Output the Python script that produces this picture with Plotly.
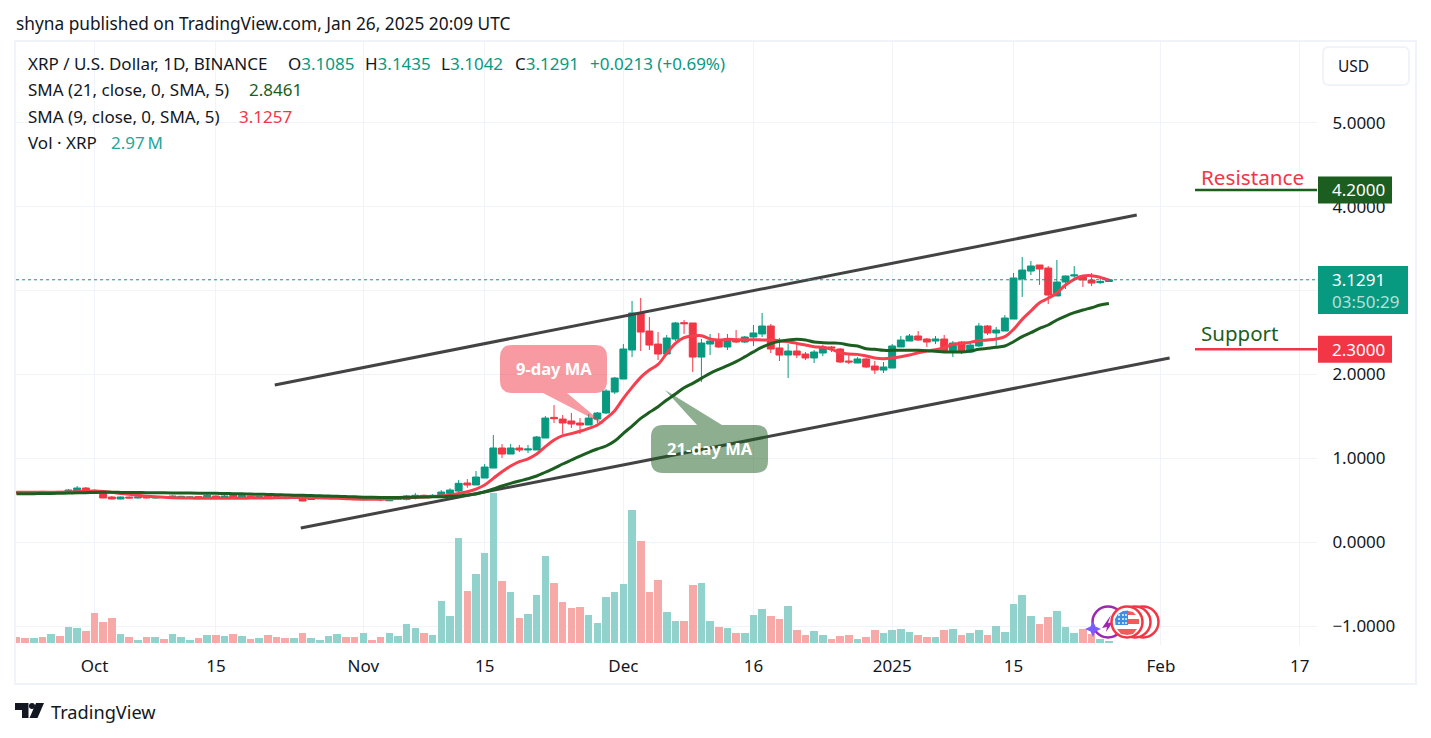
import pandas as pd
import plotly.graph_objects as go

W, H = 1431, 738
L, R, T, B = 16, 1317, 42, 645

FONT = "Noto Sans"
UP, DOWN = "#089981", "#f23645"
INK = "#131722"
GRID = "#f0f3fa"
DARK_GREEN = "#1b5e20"

start_date = "2024-09-22"

opens = [
    .605,.600,.582,.607,.590,.607,.587,.607,.647,.619,.599,.540,.516,.540,.528,.552,.528,.544,.528,
    .530,.528,.545,.528,.552,.532,.560,.540,.552,.535,.552,.552,.535,.525,.537,.510,.520,.520,.520,
    .540,.528,.508,.520,.520,.495,.512,
    .512,.528,.560,.544,.552,.583,.611,.707,.683,.766,.885,1.124,1.052,1.124,1.100,1.100,1.243,1.489,
    1.469,1.446,1.422,1.398,1.469,1.541,1.791,1.946,2.292,2.733,2.518,2.363,2.244,2.423,2.618,2.614,
    2.208,2.363,2.411,2.328,2.411,2.387,
    2.447,2.483,2.578,2.316,2.232,2.280,2.244,2.197,2.256,2.328,2.304,2.161,2.137,2.185,2.101,2.053,
    2.077,2.328,2.399,2.459,2.423,2.399,2.423,2.268,2.387,2.268,2.340,2.578,2.495,2.518,2.661,3.138,
    3.233,3.305,3.269,2.936,3.102,3.174,3.174,3.126,3.095,3.1085,
]
highs = [
    .610,.605,.607,.612,.610,.612,.635,.671,.659,.631,.600,.552,.545,.545,.545,.560,.550,.550,.560,
    .555,.548,.552,.570,.560,.565,.575,.565,.558,.553,.565,.558,.540,.542,.542,.528,.538,.538,.550,
    .546,.532,.526,.526,.525,.525,.535,
    .560,.587,.570,.575,.623,.643,.742,.754,.850,.933,1.279,1.171,1.171,1.160,1.160,1.267,1.505,1.636,
    1.517,1.541,1.481,1.529,1.553,1.827,1.970,2.363,2.876,2.912,2.685,2.506,2.471,2.626,2.649,2.614,
    2.423,2.483,2.494,2.483,2.530,2.459,
    2.590,2.733,2.602,2.435,2.363,2.375,2.268,2.292,2.351,2.340,2.316,2.232,2.208,2.197,2.161,2.149,
    2.363,2.459,2.483,2.518,2.435,2.459,2.471,2.399,2.399,2.375,2.614,2.590,2.566,2.709,3.210,3.400,
    3.353,3.305,3.293,3.365,3.180,3.293,3.186,3.210,3.150,3.1435,
]
lows = [
    .580,.575,.578,.582,.575,.582,.585,.600,.610,.580,.525,.512,.512,.525,.524,.524,.524,.530,.524,
    .525,.522,.525,.525,.522,.528,.530,.530,.530,.530,.535,.520,.515,.520,.488,.505,.516,.516,.516,
    .524,.504,.504,.508,.490,.490,.508,
    .500,.512,.540,.530,.552,.575,.599,.651,.683,.766,.885,1.005,1.052,1.076,1.064,1.100,1.243,1.422,
    1.291,1.362,1.291,1.398,1.422,1.529,1.767,1.946,2.208,2.280,2.292,2.173,2.244,2.399,2.483,2.030,
    1.910,2.232,2.316,2.292,2.375,2.375,
    2.340,2.447,2.256,2.161,1.958,2.197,2.173,2.137,2.220,2.268,2.137,2.125,2.137,2.077,2.006,2.018,
    2.077,2.328,2.399,2.399,2.328,2.363,2.256,2.208,2.244,2.256,2.328,2.471,2.340,2.518,2.661,2.924,
    3.186,3.067,2.840,2.936,3.019,3.126,3.043,3.055,3.079,3.1042,
]
closes = [
    .585,.580,.602,.587,.603,.587,.623,.647,.615,.587,.528,.516,.540,.528,.540,.528,.544,.535,.552,
    .548,.540,.530,.560,.528,.552,.536,.556,.535,.548,.540,.525,.522,.538,.492,.522,.533,.533,.535,
    .528,.508,.520,.512,.508,.520,.524,
    .552,.560,.544,.560,.599,.623,.703,.683,.778,.897,1.124,1.052,1.124,1.100,1.112,1.255,1.481,1.473,
    1.422,1.410,1.398,1.481,1.541,1.803,1.958,2.304,2.733,2.506,2.351,2.244,2.435,2.614,2.606,2.208,
    2.375,2.399,2.328,2.423,2.387,2.447,
    2.495,2.578,2.304,2.232,2.280,2.232,2.197,2.268,2.328,2.316,2.149,2.149,2.185,2.089,2.053,2.089,
    2.340,2.411,2.459,2.411,2.387,2.423,2.268,2.375,2.268,2.351,2.578,2.495,2.530,2.673,3.150,3.245,
    3.293,3.257,2.947,3.102,3.174,3.186,3.126,3.090,3.1078,3.1291,
]
volumes_m = [
    180,150,150,180,270,210,480,450,360,900,630,750,270,180,90,180,180,120,270,180,90,150,240,240,210,
    270,210,120,150,240,180,150,150,300,150,90,210,270,180,180,300,90,180,300,210,570,450,300,240,1260,
    810,3150,1560,2070,
    2700,4500,1860,1530,750,870,1440,2610,1800,1230,1050,1080,840,600,1380,1530,1770,3990,3060,1530,
    1890,930,660,660,1740,1800,660,480,450,300,300,840,1020,810,720,1110,
    380,230,350,230,110,200,230,110,170,380,290,380,410,320,230,170,170,380,410,230,290,380,230,500,
    320,1160,1430,800,560,770,950,470,290,410,280,110,60,
]
sma9 = [
    .598,.597,.596,.596,.597,.598,.600,.603,.607,.610,.605,.595,.583,.572,.560,.550,.542,.536,
    .532,.529,.527,.526,.525,.524,.524,.525,.526,.527,.528,.529,.530,.532,.534,.535,
    .533,.530,.527,.524,.520,.516,.513,.512,.514,.518,.524,
    .530,.536,.540,.545,.552,.564,.583,.603,.635,.683,.762,.842,.909,.961,.995,1.052,1.140,1.219,
    1.271,1.295,1.323,1.358,1.398,1.477,1.569,1.716,1.847,1.966,2.053,2.120,2.252,2.371,2.439,2.459,
    2.463,2.423,2.411,2.419,2.415,2.415,
    2.415,2.412,2.411,2.403,2.391,2.371,2.351,2.332,2.324,2.300,2.260,2.244,2.240,2.220,2.197,2.189,
    2.197,2.212,2.232,2.260,2.280,2.296,2.320,2.359,2.371,2.383,2.403,2.411,2.423,2.451,2.538,2.657,
    2.757,2.856,2.908,2.975,3.067,3.134,3.174,3.178,3.158,3.1257,
]
sma21 = [
    .578,.579,.580,.582,.583,.585,.587,.590,.592,.595,
    .596,.596,.595,.594,.593,.592,.591,.590,.589,.588,.587,.586,.585,.584,
    .582,.580,.578,.575,.573,.570,.568,.565,.562,.560,
    .557,.554,.551,.548,.545,.542,.538,.536,.535,.535,.535,
    .536,.538,.540,.542,.544,.548,.552,.564,.576,.603,.635,.671,.703,.731,.758,.790,.835,.881,
    .933,.981,1.028,1.072,1.112,1.148,1.207,1.299,1.386,1.477,1.549,1.616,1.696,1.767,1.843,1.895,
    1.954,2.014,2.061,2.105,2.153,2.210,
    2.270,2.325,2.368,2.395,2.411,2.419,2.411,2.387,2.379,2.375,2.371,2.351,2.340,2.308,2.300,2.288,
    2.288,2.288,2.288,2.288,2.284,2.276,2.268,2.268,2.268,2.280,2.300,2.312,2.324,2.340,2.391,2.451,
    2.498,2.550,2.590,2.650,2.697,2.737,2.769,2.796,2.828,2.8461,
]
for arr in (highs, lows, closes, volumes_m, sma9, sma21):
    assert len(arr) == len(opens) == 127, (len(arr), len(opens))

channel_upper_x = ["2024-10-21 19:00", "2025-01-29 05:00"]
channel_upper_y = [1.875, 3.90]
channel_lower_x = ["2024-10-24 19:00", "2025-02-02 00:00"]
channel_lower_y = [0.17, 2.197]

time_ticks = ["2024-10-01", "2024-10-15", "2024-11-01", "2024-11-15", "2024-12-01", "2024-12-16",
              "2025-01-01", "2025-01-15", "2025-02-01", "2025-02-17"]
time_labels = ["Oct", "15", "Nov", "15", "Dec", "16", "2025", "15", "Feb", "17"]
price_ticks = [-1, 0, 1, 2, 3, 4, 5]
price_labels = ["\u22121.0000", "0.0000", "1.0000", "2.0000", "", "4.0000", "5.0000"]

last_price = 3.1291
resistance, support = 4.2, 2.3

dates = pd.date_range(start_date, periods=len(opens), freq="D")
vol_colors = ["#92d2cc" if c >= o else "#f7a9a7" for o, c in zip(opens, closes)]


def px(x):
    return (x - L) / (R - L)


def py(y):
    return (B - y) / (B - T)


fig = go.Figure()
fig.add_trace(go.Bar(x=dates, y=volumes_m, marker=dict(color=vol_colors, line_width=0),
                     width=0.87 * 86400000, xaxis="x", yaxis="y"))
fig.add_trace(go.Candlestick(x=dates, open=opens, high=highs, low=lows, close=closes,
                             increasing=dict(line=dict(color=UP, width=1), fillcolor=UP),
                             decreasing=dict(line=dict(color=DOWN, width=1), fillcolor=DOWN),
                             whiskerwidth=0, xaxis="x", yaxis="y2"))
for xs, ys in ((channel_upper_x, channel_upper_y), (channel_lower_x, channel_lower_y)):
    fig.add_trace(go.Scatter(x=xs, y=ys, mode="lines", line=dict(color="#434343", width=3),
                             xaxis="x", yaxis="y2"))
fig.add_trace(go.Scatter(x=dates, y=sma9, mode="lines", line=dict(color="#f7404f", width=3, shape="spline"),
                         xaxis="x", yaxis="y2"))
fig.add_trace(go.Scatter(x=dates, y=sma21, mode="lines", line=dict(color=DARK_GREEN, width=3, shape="spline"),
                         xaxis="x", yaxis="y2"))

shapes = []
annots = []


def rect_px(x0, y0, x1, y1, **kw):
    shapes.append(dict(type="rect", xref="paper", yref="paper", x0=px(x0), x1=px(x1), y0=py(y0), y1=py(y1), **kw))


def round_rect_path(x0, y0, x1, y1, r, tail=None):
    pts = [f"M{px(x0 + r)},{py(y0)}"]
    if tail and tail[0] == "top":
        _, a, b, tx, ty = tail
        pts += [f"L{px(a)},{py(y0)}", f"L{px(tx)},{py(ty)}", f"L{px(b)},{py(y0)}"]
    pts += [f"L{px(x1 - r)},{py(y0)}", f"Q{px(x1)},{py(y0)} {px(x1)},{py(y0 + r)}", f"L{px(x1)},{py(y1 - r)}",
            f"Q{px(x1)},{py(y1)} {px(x1 - r)},{py(y1)}"]
    if tail and tail[0] == "bottom":
        _, a, b, tx, ty = tail
        pts += [f"L{px(b)},{py(y1)}", f"L{px(tx)},{py(ty)}", f"L{px(a)},{py(y1)}"]
    pts += [f"L{px(x0 + r)},{py(y1)}", f"Q{px(x0)},{py(y1)} {px(x0)},{py(y1 - r)}", f"L{px(x0)},{py(y0 + r)}",
            f"Q{px(x0)},{py(y0)} {px(x0 + r)},{py(y0)}", "Z"]
    return " ".join(pts)


def path_px(points):
    return "M" + " L".join(f"{px(x)},{py(y)}" for x, y in points) + " Z"


def poly(points, color):
    shapes.append(dict(type="path", xref="paper", yref="paper", line_width=0, fillcolor=color,
                       path=path_px(points)))


def circle(cx, cy, r, fill, line=None, width=0):
    shapes.append(dict(type="circle", xref="paper", yref="paper", x0=px(cx - r), x1=px(cx + r), y0=py(cy - r),
                       y1=py(cy + r), fillcolor=fill, line=dict(color=line or fill, width=width)))


def text_px(x, y, text, size=17, color=INK, anchor="left", **kw):
    annots.append(dict(xref="paper", yref="paper", x=px(x), y=py(y), text=text, showarrow=False,
                       xanchor=anchor, yanchor="middle", font=dict(family=FONT, size=size, color=color),
                       borderpad=0, **kw))


def ppy(p):
    return 542.3 - 83.9 * p


# frame and USD button
rect_px(15, 41, 1416, 684, line=dict(color=GRID, width=2), layer="below")
shapes.append(dict(type="path", xref="paper", yref="paper", path=round_rect_path(1323, 47, 1409, 85, 6),
                   line=dict(color=GRID, width=2), fillcolor="white"))
text_px(1337, 66, "USD", 15.5)

# last price dotted line
shapes.append(dict(type="line", xref="paper", x0=0, x1=1, yref="y2", y0=last_price, y1=last_price,
                   line=dict(color=UP, width=1, dash="dot")))

# support and resistance
shapes.append(dict(type="line", xref="paper", x0=px(1195), x1=1, yref="y2", y0=resistance, y1=resistance,
                   line=dict(color=DARK_GREEN, width=2.5)))
shapes.append(dict(type="line", xref="paper", x0=px(1195), x1=1, yref="y2", y0=support, y1=support,
                   line=dict(color=DOWN, width=2.5)))
rect_px(1318, ppy(resistance) - 13.5, 1392, ppy(resistance) + 13.5, fillcolor=DARK_GREEN, line_width=0)
rect_px(1318, ppy(support) - 13.5, 1392, ppy(support) + 13.5, fillcolor=DOWN, line_width=0)
rect_px(1318, 266, 1408, 314, fillcolor=UP, line_width=0)
text_px(1331, ppy(resistance), "4.2000", 17, "white")
text_px(1331, ppy(support), "2.3000", 17, "white")
text_px(1331, 279, "3.1291", 17, "white")
text_px(1331, 301, "03:50:29", 17, "#b5e0d8")
text_px(1200, 177, "Resistance", 20.7, DOWN)
text_px(1200, 333, "Support", 20.5, DARK_GREEN)

# callouts
shapes.append(dict(type="path", xref="paper", yref="paper", opacity=0.5, line_width=0, fillcolor=DOWN,
                   path=round_rect_path(500, 345, 607, 393, 12, ("bottom", 543, 567, 605, 425))))
shapes.append(dict(type="path", xref="paper", yref="paper", opacity=0.5, line_width=0, fillcolor=DARK_GREEN,
                   path=round_rect_path(651, 425, 768, 473, 12, ("top", 697, 722, 665, 390))))
text_px(553.5, 368, "<b>9-day MA</b>", 16.5, "white", "center")
text_px(709.5, 449, "<b>21-day MA</b>", 16.5, "white", "center")

# event icons
circle(1143, 622, 15.5, "white", DOWN, 2.5)
circle(1135, 622, 15.5, "white", DOWN, 2.5)
circle(1108, 622, 15.5, "white", "#9c27b0", 2.5)
poly([(1111, 615), (1102, 628), (1107, 627), (1106, 632), (1113, 622), (1108, 623)], "#9c27b0")
circle(1127, 622, 15.5, "white", DOWN, 2.5)
poly([(1117, 629), (1137, 629), (1133, 634), (1127, 635), (1121, 634)], "#f55a5a")
poly([(1128, 619), (1139, 619), (1139, 624), (1128, 624)], "#f55a5a")
poly([(1128, 611), (1133, 612), (1136, 615), (1128, 615)], "#f55a5a")
poly([(1115, 619), (1118, 614), (1123, 611), (1128, 610.5), (1128, 625), (1115.5, 625)], "#3d8fe0")
for dot_x in (1119, 1123, 1126):
    for dot_y in (615, 619, 623):
        circle(dot_x, dot_y, 0.9, "white")
poly([(1085, 629), (1090.5, 626.5), (1093, 621), (1095.5, 626.5), (1101, 629), (1095.5, 631.5),
      (1093, 637), (1090.5, 631.5)], "#7b5cff")

# TradingView logo
poly([(15, 703), (28.5, 703), (28.5, 718), (22, 718), (22, 710), (15, 710)], INK)
circle(32, 706, 3, INK)
poly([(36, 703), (44, 703), (37.5, 718), (29.5, 718)], INK)
text_px(50, 712, "TradingView", 18.2)

# header and legend
text_px(15, 23, "shyna published on TradingView.com, Jan 26, 2025 20:09 UTC", 17.3)
text_px(27, 64, "XRP / U.S. Dollar, 1D, BINANCE", 17)
for x, head, val in ((287, "O", "3.1085"), (364, "H", "3.1435"), (440, "L", "3.1042"), (514, "C", "3.1291")):
    text_px(x, 64, f'{head}<span style="color:{UP}">{val}</span>', 17)
text_px(589, 64, "+0.0213 (+0.69%)", 17, UP)
text_px(27, 90, "SMA (21, close, 0, SMA, 5)", 17)
text_px(248, 90, "2.8461", 17, DARK_GREEN)
text_px(27, 116, "SMA (9, close, 0, SMA, 5)", 17)
text_px(238, 116, "3.1257", 17, DOWN)
text_px(27, 142, "Vol \u00b7 XRP", 17)
text_px(110, 142, "2.97\u2009M", 17, "#26a69a")

d0 = pd.Timestamp(start_date)
fig.update_layout(
    width=W, height=H, margin=dict(l=L, r=W - R, t=T, b=H - B, autoexpand=False),
    paper_bgcolor="white", plot_bgcolor="white", showlegend=False, hovermode=False,
    boxgap=0.2, boxgroupgap=0, bargap=0, barmode="overlay",
    xaxis=dict(type="date", range=[d0 - pd.Timedelta(days=0.054), d0 + pd.Timedelta(days=150.0)],
               tickmode="array", tickvals=time_ticks, ticktext=time_labels, showgrid=True, gridcolor=GRID,
               gridwidth=1, zeroline=False, showline=False, ticks="outside", ticklen=6, tickcolor="white",
               tickfont=dict(family=FONT, size=17, color=INK), rangeslider=dict(visible=False)),
    yaxis=dict(range=[-60, 18030], visible=False, showgrid=False, zeroline=False),
    yaxis2=dict(overlaying="y", side="right", range=[-1.224, 5.963], tickmode="array", tickvals=price_ticks,
                ticktext=price_labels, showgrid=True, gridcolor=GRID, gridwidth=1, zeroline=False, showline=False,
                ticks="outside", ticklen=11, tickcolor="rgba(0,0,0,0)",
                tickfont=dict(family=FONT, size=17, color=INK)),
    shapes=shapes, annotations=annots,
)
fig.write_html("out.html", post_script="document.body.style.margin='0';document.body.style.overflow='hidden';",
               config=dict(displayModeBar=False))
